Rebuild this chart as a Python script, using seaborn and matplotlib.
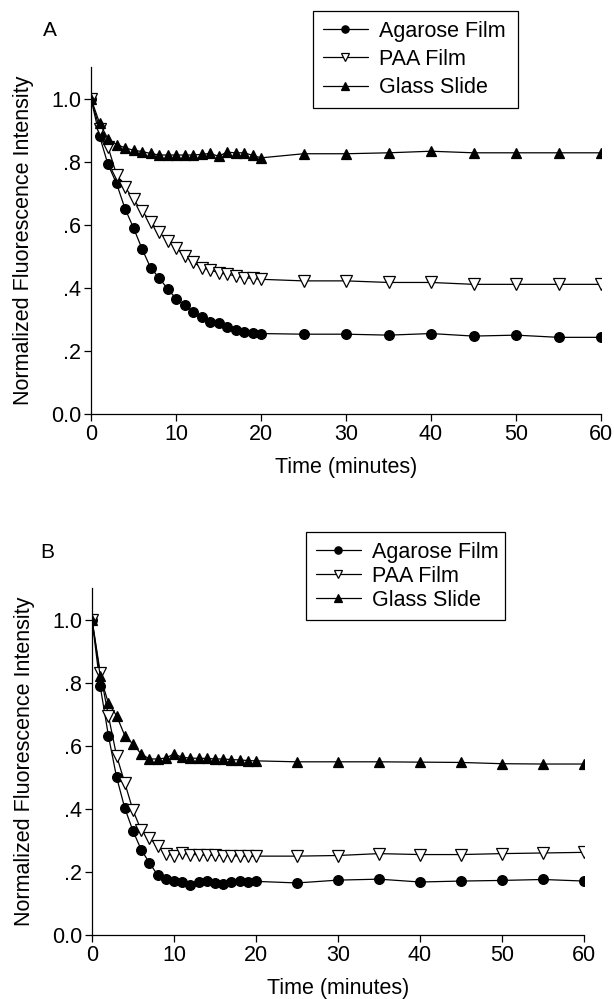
import matplotlib
matplotlib.use("Agg")
import matplotlib.pyplot as plt
import seaborn as sns
import pandas as pd

# Sampling times (minutes): every minute up to 20, then every 5 minutes
times = list(range(0, 21)) + [25, 30, 35, 40, 45, 50, 55, 60]

# Panel A
agarose_a = [1.00, 0.881, 0.791, 0.731, 0.651, 0.590, 0.524, 0.464, 0.432, 0.397,
             0.366, 0.345, 0.323, 0.309, 0.292, 0.290, 0.275, 0.267, 0.261, 0.258,
             0.255, 0.253, 0.253, 0.250, 0.255, 0.247, 0.250, 0.243, 0.243]
paa_a = [1.00, 0.905, 0.847, 0.759, 0.720, 0.680, 0.643, 0.610, 0.577, 0.549,
         0.527, 0.501, 0.482, 0.464, 0.457, 0.448, 0.443, 0.438, 0.432, 0.430,
         0.427, 0.422, 0.422, 0.417, 0.417, 0.411, 0.411, 0.411, 0.411]
glass_a = [1.00, 0.923, 0.872, 0.854, 0.844, 0.836, 0.832, 0.826, 0.821, 0.821,
           0.821, 0.821, 0.821, 0.823, 0.826, 0.817, 0.830, 0.828, 0.828, 0.820,
           0.812, 0.825, 0.825, 0.828, 0.833, 0.828, 0.828, 0.828, 0.828]

# Panel B
agarose_b = [1.00, 0.789, 0.632, 0.500, 0.402, 0.330, 0.270, 0.229, 0.190, 0.179,
             0.172, 0.167, 0.158, 0.169, 0.172, 0.165, 0.161, 0.169, 0.172, 0.167,
             0.170, 0.165, 0.174, 0.177, 0.168, 0.171, 0.173, 0.176, 0.171]
paa_b = [1.00, 0.832, 0.695, 0.568, 0.482, 0.395, 0.332, 0.307, 0.282, 0.258,
         0.252, 0.260, 0.255, 0.255, 0.253, 0.253, 0.252, 0.252, 0.250, 0.250,
         0.250, 0.250, 0.252, 0.258, 0.255, 0.255, 0.258, 0.260, 0.262]
glass_b = [1.00, 0.821, 0.735, 0.695, 0.632, 0.605, 0.574, 0.558, 0.558, 0.561,
           0.574, 0.563, 0.561, 0.560, 0.560, 0.558, 0.558, 0.556, 0.555, 0.553,
           0.552, 0.549, 0.549, 0.549, 0.548, 0.547, 0.543, 0.542, 0.542]

series_names = ["Agarose Film", "PAA Film", "Glass Slide"]
panel_labels = ["A", "B"]
x_label = "Time (minutes)"
y_label = "Normalized Fluorescence Intensity"
x_ticks = [0, 10, 20, 30, 40, 50, 60]
y_ticks = [0.0, 0.2, 0.4, 0.6, 0.8, 1.0]
y_tick_labels = ["0.0", ".2", ".4", ".6", ".8", "1.0"]

sns.set_theme(style="ticks")
plt.rcParams["font.family"] = ["Liberation Sans", "DejaVu Sans"]
plt.rcParams["text.color"] = "black"
plt.rcParams["axes.labelcolor"] = "black"
plt.rcParams["xtick.color"] = "black"
plt.rcParams["ytick.color"] = "black"

W, H = 614, 999
fig = plt.figure(figsize=(W / 100, H / 100), dpi=100)


def frac_box(left, right, top, bottom):
    return [left / W, 1 - bottom / H, (right - left) / W, (bottom - top) / H]


styles = {
    "Agarose Film": dict(marker="o", markerfacecolor="black", markersize=7.0),
    "PAA Film": dict(marker="v", markerfacecolor="white", markersize=8.0),
    "Glass Slide": dict(marker="^", markerfacecolor="black", markersize=7.5),
}


def draw_panel(ax, values, label, label_xy, legend_box, labelspacing):
    frame = pd.DataFrame({"time": times})
    for name, vals in zip(series_names, values):
        frame[name] = vals
    for name in series_names:
        sns.lineplot(data=frame, x="time", y=name, ax=ax, color="black",
                     linewidth=0.9, markeredgecolor="black", markeredgewidth=0.9,
                     label=name, errorbar=None, **styles[name])
    ax.set_xlim(0, 60)
    ax.set_ylim(0, 1.1)
    ax.set_xticks(x_ticks)
    ax.set_yticks(y_ticks)
    ax.set_yticklabels(y_tick_labels)
    ax.tick_params(axis="both", direction="out", length=5, width=0.9,
                   labelsize=15.5, colors="black", pad=2)
    for side in ("top", "right"):
        ax.spines[side].set_visible(False)
    for side in ("left", "bottom"):
        ax.spines[side].set_linewidth(0.9)
        ax.spines[side].set_color("black")
    ax.set_xlabel(x_label, fontsize=15.5, labelpad=9, color="black")
    ax.set_ylabel(y_label, fontsize=15.5, labelpad=12, color="black")
    left, top, right = legend_box
    leg = ax.legend(loc="upper left",
                    bbox_to_anchor=(left / W, 1 - top / H - 0.001,
                                    (right - left) / W, 0.001),
                    bbox_transform=fig.transFigure, borderaxespad=0,
                    mode="expand",
                    fontsize=15.5, frameon=True, fancybox=False, edgecolor="black",
                    framealpha=1, handlelength=2.1, handletextpad=0.5,
                    labelspacing=labelspacing, borderpad=0.45, markerscale=0.75)
    leg.get_frame().set_linewidth(0.9)
    for txt in leg.get_texts():
        txt.set_color("black")
    fig.text(label_xy[0] / W, 1 - label_xy[1] / H, label, fontsize=15,
             ha="center", va="center", color="black")


axA = fig.add_axes(frac_box(91, 601, 67, 414))
draw_panel(axA, [agarose_a, paa_a, glass_a], panel_labels[0], (50, 31),
           (313, 11, 518), 0.34)

axB = fig.add_axes(frac_box(92, 584, 588, 935))
draw_panel(axB, [agarose_b, paa_b, glass_b], panel_labels[1], (47, 552),
           (306, 532, 505), 0.14)

fig.savefig("out.png", dpi=100)
